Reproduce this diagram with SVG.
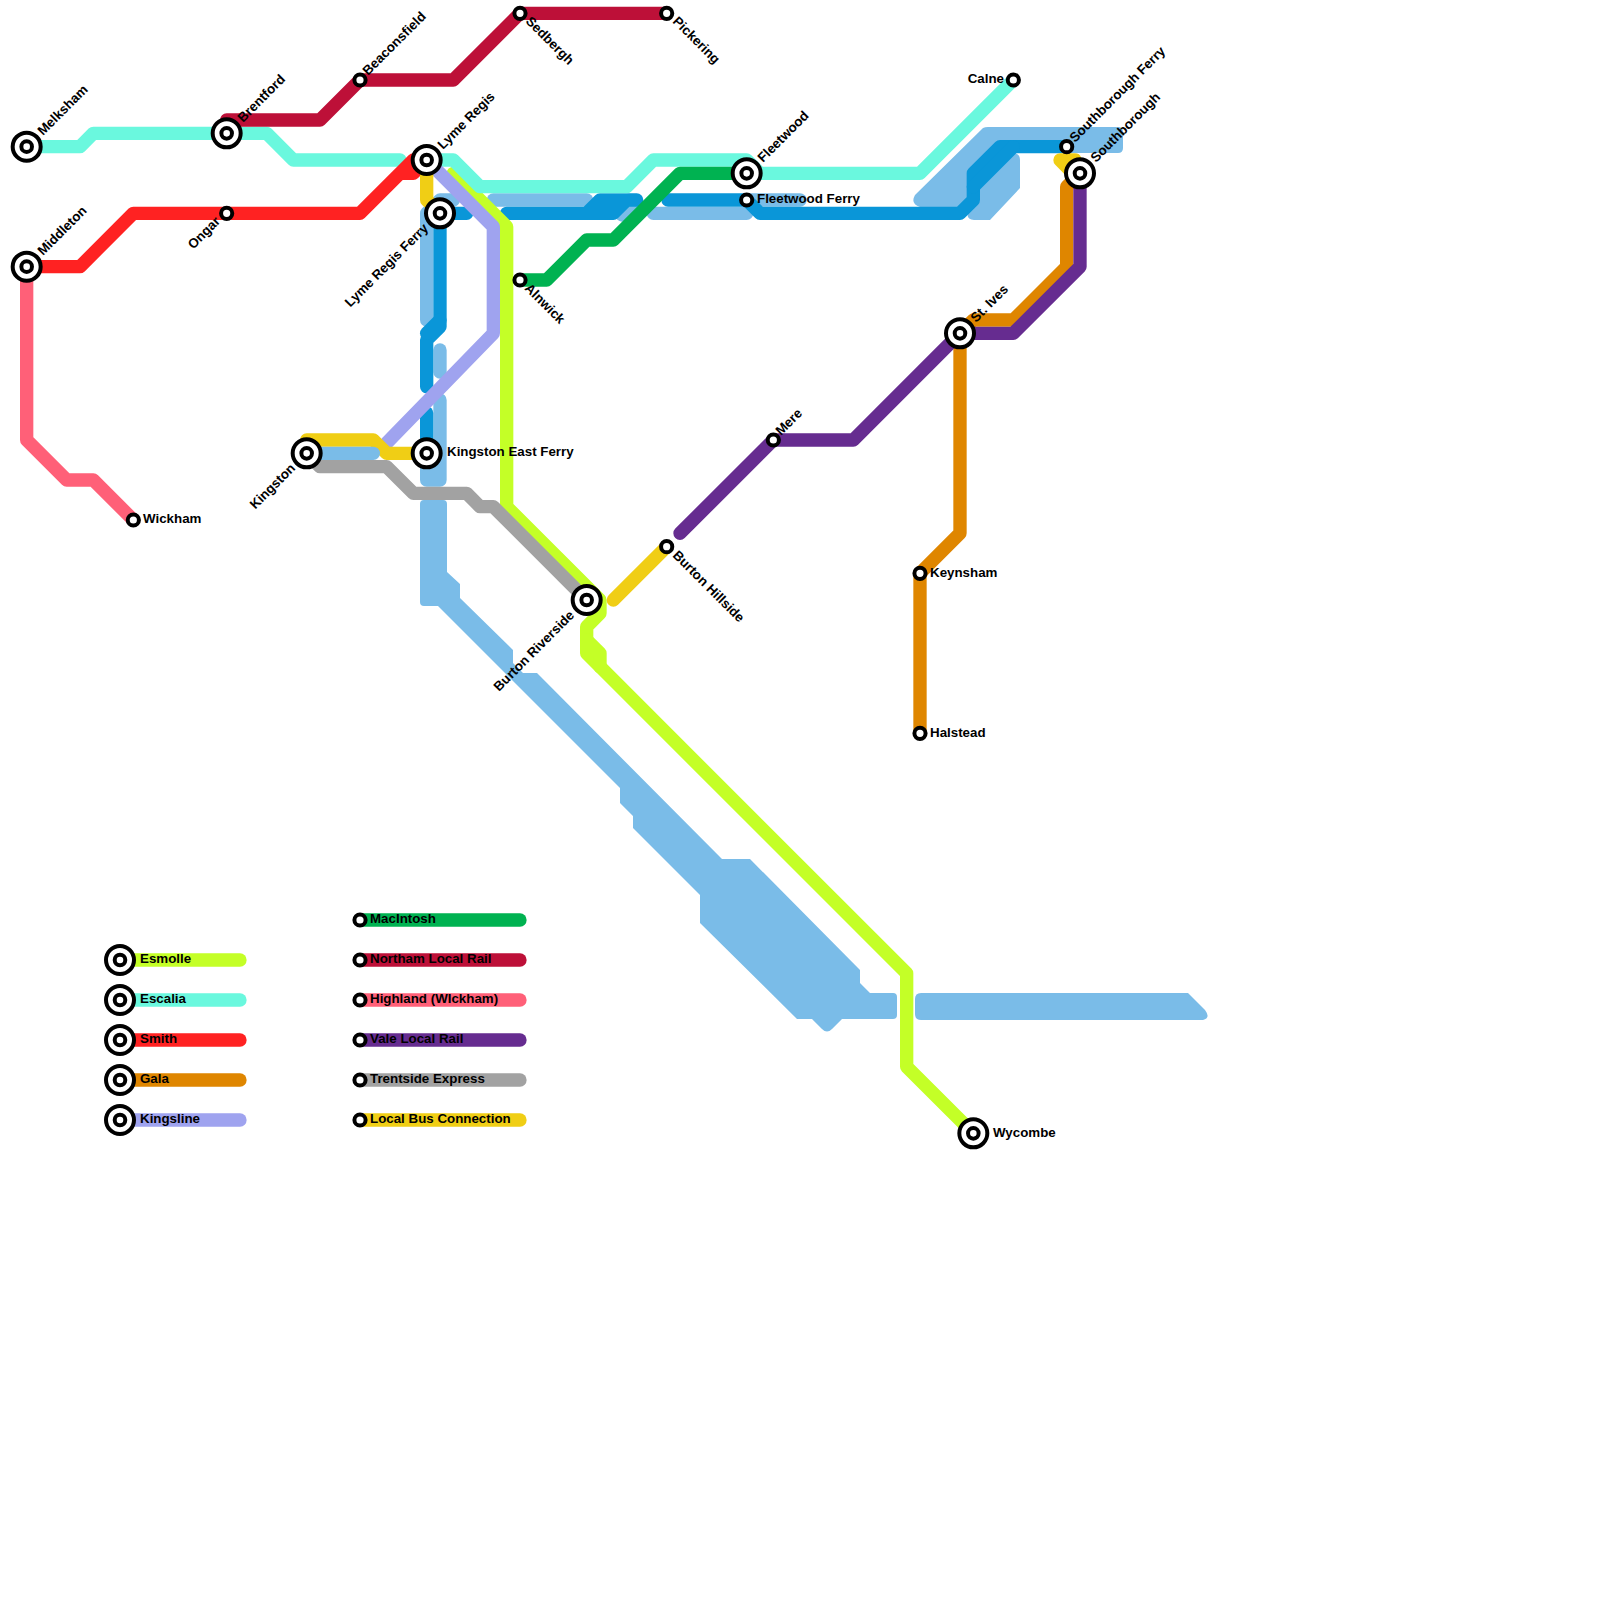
<svg xmlns="http://www.w3.org/2000/svg" width="1600" height="1600" viewBox="0 0 1600 1600">
<style>
.l{fill:none;stroke-width:13.33;stroke-linecap:round;stroke-linejoin:round}
.f{stroke:#7abce8}.fb{fill:#7abce8}
.d{stroke:#0a96d8}.es{stroke:#c4ff27}.ea{stroke:#6af8de}.sm{stroke:#ff2222}.ga{stroke:#df8600}.ki{stroke:#9fa3ef}
.ma{stroke:#00b251}.no{stroke:#bd1038}.hi{stroke:#ff6078}.va{stroke:#662c90}.tr{stroke:#a2a2a2}.bu{stroke:#f0ce15}
.o{fill:#fff;stroke:#000;stroke-width:4}
text{font-family:"Liberation Sans",Arial,sans-serif;font-size:13.33px;font-weight:bold;fill:#000}
</style>
<defs>
<g id="big"><circle r="14" class="o"/><circle r="5.3" class="o"/></g>
<g id="small"><circle r="5.6" class="o"/></g>
</defs>
<g id="connectors">
<path class="fb" d="M424,500H443Q447,500 447,504V572L460,584V598L513,650V663L523,673H537L722,859H750L860,970V983L870,993H893Q897,993 897,997V1015Q897,1019 893,1019H842L832,1029Q827,1034 822,1029L812,1019H797L700,923V895L633,828V816L620,803V788L438,606H424Q420,606 420,602V504Q420,500 424,500Z"/>
<path class="fb" d="M921,993H1188L1205,1010Q1211,1018 1203,1020H921Q915,1020 915,1014V999Q915,993 921,993Z"/>
<path class="fb" d="M915,195L983,128Q985,127 988,127H1118Q1123,127 1123,132V148Q1123,153 1118,153H1000L960,215L925,207H920Q910,204 915,195Z"/>
<path class="fb" d="M1013,153Q1020,153 1020,160V188L990,220H974Q966,219 968,213L975,195V170Z"/>
<g class="l f">
<path d="M493.33,200H586.67"/>
<path d="M453.33,200H440L426.67,213.33V320"/>
<path d="M440,350V372"/>
<path d="M440,400V480H426.67V453.33"/>
<path d="M622,215L633.33,203"/>
<path d="M653.33,213.33H746.67"/>
<path d="M746.67,200H800"/>
</g>
<g class="l d">
<path d="M506.67,213.33H613.33L626.67,200H636.67H600L586.67,213.33"/>
<path d="M668,200H746.67L760,213.33H960L973.33,200V173.33L1000,146.67H1066"/>
<path d="M1013.33,146.67L973.33,186.67"/>
<path d="M440,213.33H466.67"/>
<path d="M440,213.33V326.67L426.67,340V386.67"/>
<path d="M440,320L426.67,333.33"/>
<path d="M426.67,413V453.33"/>
</g>
<path class="l es" d="M453.33,173.33L506.67,226.67V506.67L600,600V613.33L586.67,626.67V653.33L906.67,973.33V1066.67L973.33,1133.33"/>
<path class="l es" d="M586.67,640L600,653.33V666.67"/>
<path class="l ea" d="M26.67,146.67H80L93.33,133.33H266.67L293.33,160H400"/>
<path class="l ea" d="M426.67,160H453.33L480,186.67H626.67L653.33,160H746.67L760,173.33H920L1013.33,80"/>
<path class="l ki" d="M386.67,443L493.33,333.33V226.67L426.67,160"/>
<path class="l sm" d="M26.67,266.67H80L133.33,213.33H360L413.33,160H426.67M400,173.33H413.33L426.67,160"/>
<path class="l ga" d="M920,733.33V573.33L960,533.33V333.33L973.33,320H1013.33L1066.67,266.67V186.67L1080,173.33"/>
<path class="l ma" d="M520,280H546.67L586.67,240H613.33L680,173.33H746.67"/>
<path class="l no" d="M226.67,120H320L360,80H453.33L520,13.33H666.67"/>
<path class="l hi" d="M26.67,266.67V440L66.67,480H93.33L133.33,520"/>
<path class="l va" d="M680,533.33L773.33,440H853.33L960,333.33H1013.33L1080,266.67V173.33"/>
<path class="l tr" d="M306.67,453.33L320,466.67H386.67L413.33,493.33H466.67L480,506.67H493.33L586.67,600"/>
<path class="l bu" d="M306.67,453.33V440H373.33L386.67,453.33H426.67"/>
<path class="l f" d="M320,453.33H373.33"/>
<path class="l bu" d="M426.67,160V200L440,213.33"/>
<path class="l bu" d="M613.33,600L666.67,546.67"/>
<path class="l bu" d="M1060,160H1075L1080,173.33M1060,160L1073,173.33"/>
</g>
<g id="nodes">
<g id="melksham"><use href="#big" x="26.67" y="146.67"/><text transform="translate(43,136) rotate(-45)">Melksham</text></g>
<g id="brentford"><use href="#big" x="226.67" y="133.33"/><text transform="translate(243,123) rotate(-45)">Brentford</text></g>
<g id="ongar"><use href="#small" x="226.67" y="213.33"/><text transform="translate(221,222) rotate(-45)" text-anchor="end">Ongar</text></g>
<g id="beaconsfield"><use href="#small" x="360" y="80"/><text transform="translate(368,76) rotate(-45)">Beaconsfield</text></g>
<g id="sedbergh"><use href="#small" x="520" y="13.33"/><text transform="translate(525,22) rotate(45)">Sedbergh</text></g>
<g id="pickering"><use href="#small" x="666.67" y="13.33"/><text transform="translate(672,22) rotate(45)">Pickering</text></g>
<g id="middleton"><use href="#big" x="26.67" y="266.67"/><text transform="translate(43,256) rotate(-45)">Middleton</text></g>
<g id="wickham"><use href="#small" x="133.33" y="520"/><text x="143" y="523">Wickham</text></g>
<g id="lyme-regis"><use href="#big" x="426.67" y="160"/><text transform="translate(443,150) rotate(-45)">Lyme Regis</text></g>
<g id="lyme-regis-ferry"><use href="#big" x="440" y="213.33"/><text transform="translate(429,229) rotate(-45)" text-anchor="end">Lyme Regis Ferry</text></g>
<g id="kingston"><use href="#big" x="306.67" y="453.33"/><text transform="translate(296,469) rotate(-45)" text-anchor="end">Kingston</text></g>
<g id="kingston-east-ferry"><use href="#big" x="426.67" y="453.33"/><text x="447" y="456">Kingston East Ferry</text></g>
<g id="alnwick"><use href="#small" x="520" y="280"/><text transform="translate(524,289) rotate(45)">Alnwick</text></g>
<g id="burton-riverside"><use href="#big" x="586.67" y="600"/><text transform="translate(575,616) rotate(-45)" text-anchor="end">Burton Riverside</text></g>
<g id="burton-hillside"><use href="#small" x="666.67" y="546.67"/><text transform="translate(672,556) rotate(45)">Burton Hillside</text></g>
<g id="mere"><use href="#small" x="773.33" y="440"/><text transform="translate(781,436) rotate(-45)">Mere</text></g>
<g id="fleetwood"><use href="#big" x="746.67" y="173.33"/><text transform="translate(763,163) rotate(-45)">Fleetwood</text></g>
<g id="fleetwood-ferry"><use href="#small" x="746.67" y="200"/><text x="757" y="203">Fleetwood Ferry</text></g>
<g id="calne"><use href="#small" x="1013.33" y="80"/><text x="1004" y="83" text-anchor="end">Calne</text></g>
<g id="southborough-ferry"><use href="#small" x="1066.67" y="146.67"/><text transform="translate(1075,143) rotate(-45)">Southborough Ferry</text></g>
<g id="southborough"><use href="#big" x="1080" y="173.33"/><text transform="translate(1096,163) rotate(-45)">Southborough</text></g>
<g id="st-ives"><use href="#big" x="960" y="333.33"/><text transform="translate(976,323) rotate(-45)">St. Ives</text></g>
<g id="keynsham"><use href="#small" x="920" y="573.33"/><text x="930" y="576.5">Keynsham</text></g>
<g id="halstead"><use href="#small" x="920" y="733.33"/><text x="930" y="736.5">Halstead</text></g>
<g id="wycombe"><use href="#big" x="973.33" y="1133.33"/><text x="993" y="1136.5">Wycombe</text></g>
</g>
<g id="legend">
<g id="key-esmolle"><path class="l es" d="M120,960H240"/><use href="#big" x="120" y="960"/><text x="140" y="963">Esmolle</text></g>
<g id="key-escalia"><path class="l ea" d="M120,1000H240"/><use href="#big" x="120" y="1000"/><text x="140" y="1003">Escalia</text></g>
<g id="key-smith"><path class="l sm" d="M120,1040H240"/><use href="#big" x="120" y="1040"/><text x="140" y="1043">Smith</text></g>
<g id="key-gala"><path class="l ga" d="M120,1080H240"/><use href="#big" x="120" y="1080"/><text x="140" y="1083">Gala</text></g>
<g id="key-kingsline"><path class="l ki" d="M120,1120H240"/><use href="#big" x="120" y="1120"/><text x="140" y="1123">Kingsline</text></g>
<g id="key-macintosh"><path class="l ma" d="M360,920H520"/><use href="#small" x="360" y="920"/><text x="370" y="923">MacIntosh</text></g>
<g id="key-northam"><path class="l no" d="M360,960H520"/><use href="#small" x="360" y="960"/><text x="370" y="963">Northam Local Rail</text></g>
<g id="key-highland"><path class="l hi" d="M360,1000H520"/><use href="#small" x="360" y="1000"/><text x="370" y="1003">Highland (WIckham)</text></g>
<g id="key-vale"><path class="l va" d="M360,1040H520"/><use href="#small" x="360" y="1040"/><text x="370" y="1043">Vale Local Rail</text></g>
<g id="key-trentside"><path class="l tr" d="M360,1080H520"/><use href="#small" x="360" y="1080"/><text x="370" y="1083">Trentside Express</text></g>
<g id="key-bus"><path class="l bu" d="M360,1120H520"/><use href="#small" x="360" y="1120"/><text x="370" y="1123">Local Bus Connection</text></g>
</g>
</svg>
